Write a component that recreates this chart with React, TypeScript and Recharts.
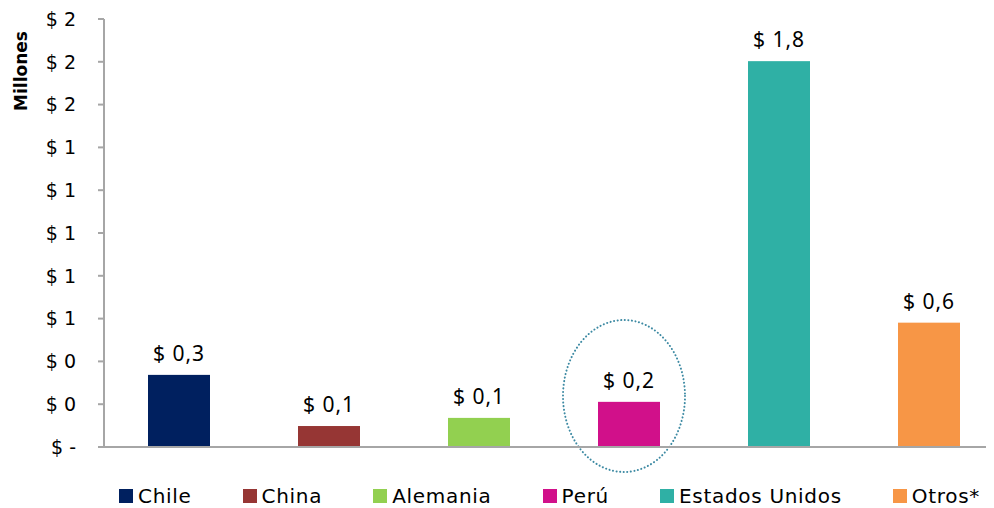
import React from "react"
import { BarChart, Bar, XAxis, YAxis, Cell, LabelList, Legend } from "recharts"

const countries = ["Chile", "China", "Alemania", "Perú", "Estados Unidos", "Otros*"]
const amounts = [0.337, 0.098, 0.136, 0.211, 1.803, 0.581]
const colors = ["#00205f", "#963634", "#92d050", "#d1108a", "#2fb0a5", "#f79646"]
const yTicks = [0, 0.2, 0.4, 0.6, 0.8, 1.0, 1.2, 1.4, 1.6, 1.8, 2.0]
const highlighted = ["Perú"]

const data = countries.map((name, i) => ({
  name,
  value: amounts[i],
  color: colors[i],
}))

const axisColor = "#a6a6a6"
const axisFont = "'DejaVu Sans', sans-serif"

function formatTick(v: number) {
  return v === 0 ? "$ -" : "$ " + Math.round(v)
}

function formatLabel(v: number) {
  return "$ " + v.toFixed(1).replace(".", ",")
}

// bar with the dotted ellipse drawn round the highlighted category
function BarShape(props: any) {
  const { x, y, width, height, fill, payload } = props
  const ring = highlighted.includes(payload?.name)
  return (
    <g>
      <rect x={x} y={y} width={width} height={height} fill={fill} />
      {ring && (
        <ellipse
          cx={x + width / 2 - 5}
          cy={y + height - 51}
          rx={61}
          ry={76}
          fill="none"
          stroke="#3d8aa3"
          strokeWidth={2}
          strokeDasharray="0.1 3.5"
          strokeLinecap="round"
        />
      )}
    </g>
  )
}

function LegendContent() {
  return (
    <div
      style={{
        display: "flex",
        alignItems: "center",
        gap: 51,
        paddingLeft: 111,
        paddingTop: 7,
        height: 24,
        fontFamily: axisFont,
        fontSize: 20,
        letterSpacing: 0.7,
        lineHeight: "24px",
        color: "#000",
      }}
    >
      {countries.map((c, i) => (
        <div key={c} style={{ display: "flex", alignItems: "center", whiteSpace: "nowrap" }}>
          <span
            style={{
              display: "inline-block",
              width: 14,
              height: 14,
              background: colors[i],
              marginRight: 5,
            }}
          />
          <span>{c}</span>
        </div>
      ))}
    </div>
  )
}

function YTitle(props: any) {
  const vb = props.viewBox || { x: 0, y: 0 }
  const cx = vb.x + 13
  const cy = vb.y + 52
  return (
    <text
      x={cx}
      y={cy}
      transform={`rotate(-90 ${cx} ${cy})`}
      textAnchor="middle"
      dominantBaseline="central"
      fontFamily={axisFont}
      fontWeight="bold"
      fontSize={17}
      fill="#000"
    >
      Millones
    </text>
  )
}

export default function App() {
  return (
    <div style={{ width: 986, height: 500, overflow: "hidden" }}>
      <BarChart
        width={1000}
        height={500}
        data={data}
        margin={{ top: 11, right: 4, left: 0, bottom: 0 }}
      >
        <XAxis
          dataKey="name"
          tick={false}
          tickLine={false}
          height={30}
          axisLine={{ stroke: axisColor, strokeWidth: 2 }}
        />
        <YAxis
          domain={[0, 2]}
          ticks={yTicks}
          interval={0}
          width={96}
          tickSize={6}
          tickMargin={22}
          tickFormatter={formatTick}
          tick={{ fontFamily: axisFont, fontSize: 19, fill: "#000" }}
          tickLine={{ stroke: axisColor, strokeWidth: 2 }}
          axisLine={{ stroke: axisColor, strokeWidth: 2 }}
          label={<YTitle />}
        />
        <Legend verticalAlign="bottom" content={<LegendContent />} />
        <Bar dataKey="value" barSize={62} shape={<BarShape />} isAnimationActive={false}>
          {data.map((d) => (
            <Cell key={d.name} fill={d.color} />
          ))}
          <LabelList
            dataKey="value"
            position="top"
            offset={14}
            formatter={(v: any) => formatLabel(Number(v))}
            style={{ fontFamily: "'Noto Sans', sans-serif", fontSize: 21, letterSpacing: 1, fill: "#000" }}
          />
        </Bar>
      </BarChart>
    </div>
  )
}
